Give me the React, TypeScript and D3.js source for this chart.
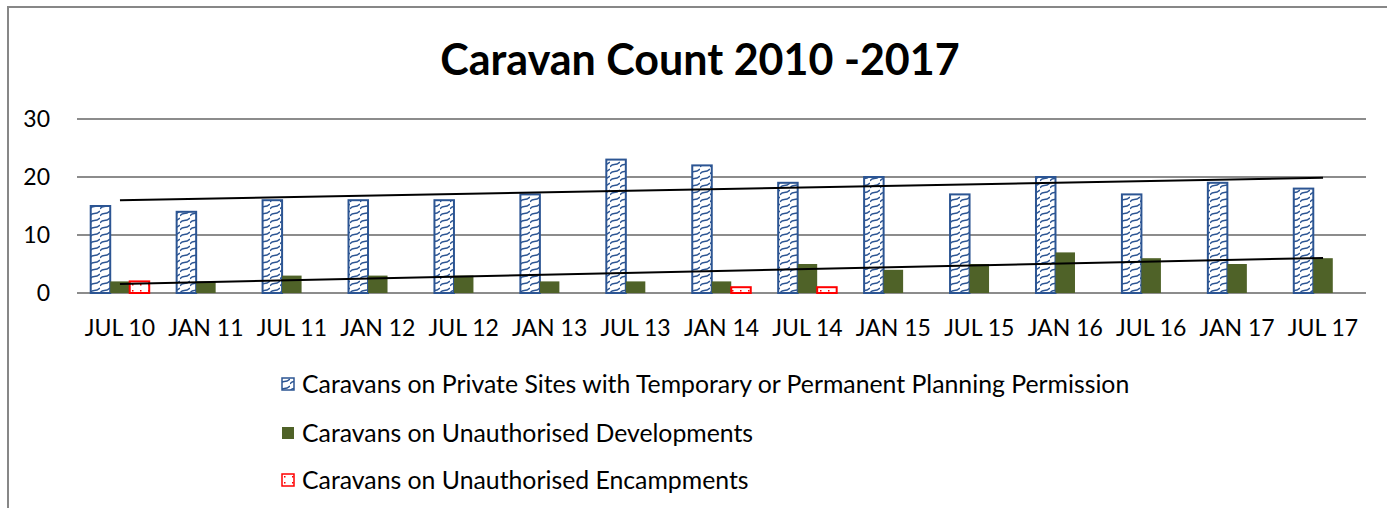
import React from "react";
import * as d3 from "d3";

const categories = ["JUL 10","JAN 11","JUL 11","JAN 12","JUL 12","JAN 13","JUL 13","JAN 14","JUL 14","JAN 15","JUL 15","JAN 16","JUL 16","JAN 17","JUL 17"];
const privateSites = [15,14,16,16,16,17,23,22,19,20,17,20,17,19,18];
const unauthDev = [2,2,3,3,3,2,2,2,5,4,5,7,6,5,6];
const unauthEnc = [2,0,0,0,0,0,0,1,1,0,0,0,0,0,0];
const yTicks = [0,10,20,30];
const seriesNames = [
  "Caravans on Private Sites with Temporary or Permanent Planning Permission",
  "Caravans on Unauthorised Developments",
  "Caravans on Unauthorised Encampments",
];

const FONT = "Lato, 'Open Sans', sans-serif";
const BLUE = "#2c5593";
const GREEN = "#4f6228";
const RED = "#ff0000";

function regression(vals: number[]) {
  const n = vals.length;
  const xs = d3.range(n);
  const mx = d3.mean(xs) as number;
  const my = d3.mean(vals) as number;
  let num = 0, den = 0;
  xs.forEach((x, i) => { num += (x - mx) * (vals[i] - my); den += (x - mx) ** 2; });
  const slope = num / den;
  return [my - slope * mx, my + slope * (n - 1 - mx)];
}

export default function App() {
  const W = 1387, H = 508;
  const x = d3.scaleBand<string>().domain(categories).range([77, 1366]).paddingInner(0).paddingOuter(0);
  const y = d3.scaleLinear().domain([0, 30]).range([293, 119]);
  const bw = 19.5;
  const cx = (c: string) => (x(c) as number) + x.bandwidth() / 2;
  const t1 = regression(privateSites);
  const t2 = regression(unauthDev);
  const first = categories[0], last = categories[categories.length - 1];

  return (
    <svg width={W} height={H} style={{ position: "absolute", left: 0, top: 0, background: "#fff" }}>
      <defs>
        <pattern id="wave" patternUnits="userSpaceOnUse" width="10" height="7">
          <rect width="10" height="7" fill="#fff" />
          <path d="M0,6 C3,1 5,6 10,1" stroke={BLUE} strokeWidth="1.4" fill="none" />
        </pattern>
        <pattern id="dots" patternUnits="userSpaceOnUse" width="8" height="6">
          <rect width="8" height="6" fill="#fff" />
          <rect x="4" y="2" width="1.5" height="1.5" fill={RED} />
        </pattern>
      </defs>
      <rect x={8} y={7} width={1400} height={520} fill="#fff" stroke="#878787" strokeWidth={2} />
      <text x={700} y={75} textAnchor="middle" fontFamily={FONT} fontWeight="bold" fontSize={43} fill="#000">
        Caravan Count 2010 -2017
      </text>
      {yTicks.map((t) => (
        <g key={t}>
          <line x1={77} x2={1366} y1={y(t)} y2={y(t)} stroke="#8c8c8c" strokeWidth={2} />
          <text x={50} y={y(t)} dy="0.36em" textAnchor="end" fontFamily={FONT} fontSize={23} fill="#000">{t}</text>
        </g>
      ))}
      {categories.map((c, i) => (
        <g key={c}>
          <rect x={cx(c) - 1.5 * bw} y={y(privateSites[i])} width={bw} height={y(0) - y(privateSites[i])}
            fill="url(#wave)" stroke={BLUE} strokeWidth={2} />
          {unauthDev[i] > 0 && (
            <rect x={cx(c) - 0.5 * bw} y={y(unauthDev[i])} width={bw} height={y(0) - y(unauthDev[i])} fill={GREEN} />
          )}
          {unauthEnc[i] > 0 && (
            <rect x={cx(c) + 0.5 * bw} y={y(unauthEnc[i])} width={bw} height={y(0) - y(unauthEnc[i])}
              fill="url(#dots)" stroke={RED} strokeWidth={2} />
          )}
          <text x={cx(c)} y={336} textAnchor="middle" fontFamily={FONT} fontSize={23} fill="#000">{c}</text>
        </g>
      ))}
      <line x1={cx(first)} x2={cx(last)} y1={y(t1[0])} y2={y(t1[1])} stroke="#000" strokeWidth={2} />
      <line x1={cx(first)} x2={cx(last)} y1={y(t2[0])} y2={y(t2[1])} stroke="#000" strokeWidth={2} />
      {seriesNames.map((s, i) => {
        const ly = [384, 433, 480][i];
        return (
          <g key={s}>
            {i === 0 && <rect x={282} y={ly - 6} width={12} height={12} fill="url(#wave)" stroke={BLUE} strokeWidth={1.5} />}
            {i === 1 && <rect x={282} y={ly - 6} width={12} height={12} fill={GREEN} />}
            {i === 2 && <rect x={282} y={ly - 6} width={12} height={12} fill="url(#dots)" stroke={RED} strokeWidth={1.5} />}
            <text x={302} y={ly} dy="0.36em" fontFamily={FONT} fontSize={24.8} fill="#000">{s}</text>
          </g>
        );
      })}
    </svg>
  );
}
